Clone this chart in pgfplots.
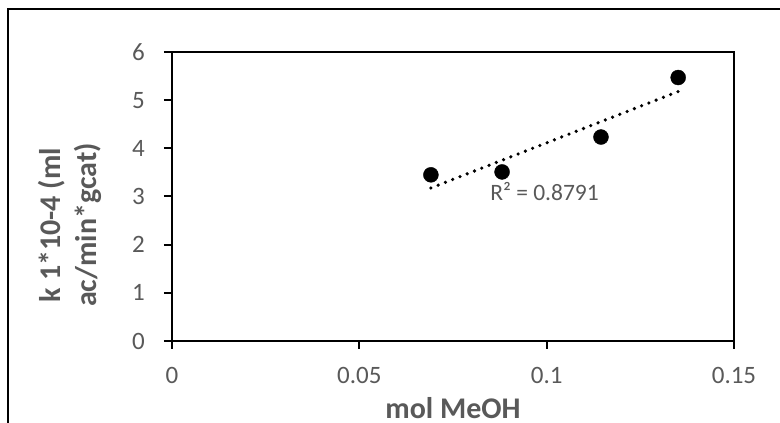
\documentclass[border=0pt]{standalone}
\usepackage{pgfplots}
\pgfplotsset{compat=1.18}
\usepackage{fontspec}
\setmainfont{Carlito}
\definecolor{txtgray}{HTML}{595959}
\begin{document}
\begin{tikzpicture}[x=1pt,y=1pt]
\path[use as bounding box] (0,0) rectangle (780,423);
\draw[line width=1.5pt,black] (8,-5) -- (8,414) -- (790,414);
\begin{axis}[
  at={(172pt,82pt)}, anchor=south west,
  scale only axis, width=562pt, height=289pt,
  xmin=0, xmax=0.15, ymin=0, ymax=6,
  xtick={0,0.05,0.1,0.15}, ytick={0,1,2,3,4,5,6},
  xticklabels={0,0.05,0.1,0.15},
  axis line style={line width=2pt, black},
  tick pos=left, tick align=outside,
  major tick length=8pt,
  tick style={line width=2pt, black},
  /pgf/number format/assume math mode=true,
  ticklabel style={font=\fontsize{25}{30}\selectfont, text=txtgray, inner sep=0pt},
  xticklabel style={anchor=north, yshift=-18pt},
  yticklabel style={anchor=east, xshift=-19pt},
  xlabel={mol MeOH},
  xlabel style={font=\bfseries\fontsize{30}{36}\selectfont, text=txtgray, inner sep=0pt, at={(axis description cs:0.5,-0.1937)}, anchor=north},
  ylabel={k 1*10-4 (ml\\ac/min*gcat)},
  ylabel style={font=\bfseries\fontsize{30}{36}\selectfont, text=txtgray, align=center, at={(axis description cs:-0.1815,0.401)}, anchor=center, rotate=0},
  clip=false,
]
\addplot[only marks, mark=*, mark size=7.5pt, black] coordinates {
  (0.0691,3.45) (0.0881,3.51) (0.1145,4.235) (0.1351,5.47)
};
\addplot[black, line width=3.6pt, line cap=round, dash pattern=on 0pt off 7.8pt] coordinates {
  (0.0691,3.177) (0.1351,5.179)
};
\node[anchor=base west, text=txtgray, font=\fontsize{23.5}{28}\selectfont, inner sep=0pt] at (axis cs:0.0849,2.913) {R² = 0.8791};
\end{axis}
\end{tikzpicture}
\end{document}
